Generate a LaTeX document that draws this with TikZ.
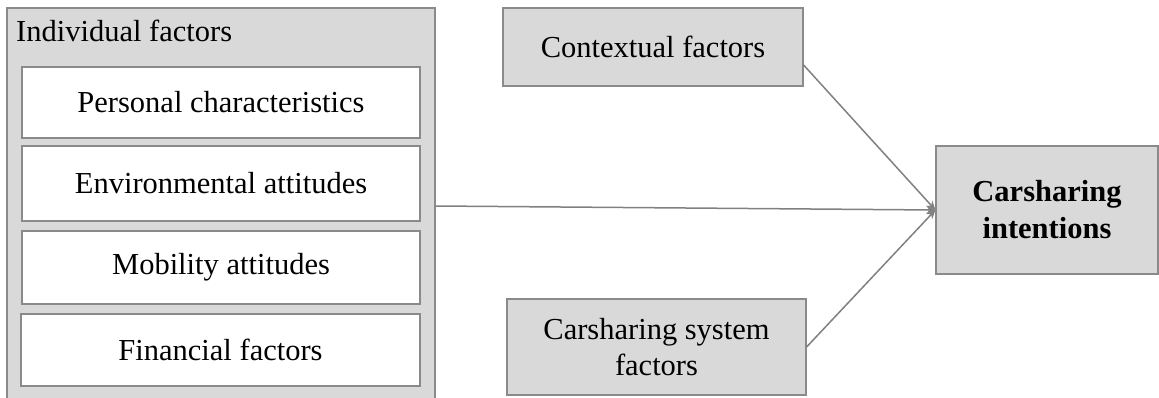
\documentclass[tikz,border=0pt]{standalone}
\usepackage{fontspec}
\setmainfont{Liberation Serif}
\usepackage{tikz}
\usetikzlibrary{arrows.meta,positioning}
\definecolor{boxGray}{HTML}{D9D9D9}
\definecolor{edgeGray}{HTML}{8A8A8A}
\definecolor{lineGray}{HTML}{808080}

\tikzset{
  factorbox/.style={draw=edgeGray,line width=1.2pt,fill=boxGray,align=center,inner sep=0pt},
  itembox/.style={draw=edgeGray,line width=1.2pt,fill=white,minimum width=398pt,minimum height=71pt,inner sep=0pt},
  link/.style={draw=lineGray,line width=1.5pt,-{Stealth[length=9pt,width=8pt]}}
}

\begin{document}
\begin{tikzpicture}[x=1pt,y=-1pt,font=\fontsize{30.5}{36}\selectfont]
\useasboundingbox (0,0) rectangle (1159,398);
% outer group, runs past the lower edge
\node[factorbox,minimum width=428pt,minimum height=396pt] (indiv) at (221,206) {};
\node[anchor=base west,inner sep=0pt] (indivlab) at (16,42) {Individual factors};
% items of the group
\node[itembox] (personal) at (221,102.5) {Personal characteristics};
\node[itembox,minimum height=75pt] (environ) at (221,183.5) {Environmental attitudes};
\node[itembox,minimum height=73pt] (mobility) at (221,267.5) {Mobility attitudes};
\node[itembox,minimum width=399pt,minimum height=72pt] (financial) at (220.5,350) {Financial factors};
% other factors and the outcome
\node[factorbox,minimum width=300pt,minimum height=78pt] (context) at (653,47) {Contextual factors};
\node[factorbox,minimum width=299pt,minimum height=96pt] (system) at (656.5,347) {Carsharing system\\factors};
\node[factorbox,minimum width=222pt,minimum height=128pt,font=\fontsize{30.5}{37}\selectfont\bfseries] (intent) at (1047,210) {Carsharing\\intentions};
% links into the outcome
\draw[link] (indiv.east) -- (intent.west);
\draw[link] ([yshift=-18pt]context.east) -- (intent.west);
\draw[link] (system.east) -- (intent.west);
\end{tikzpicture}
\end{document}
